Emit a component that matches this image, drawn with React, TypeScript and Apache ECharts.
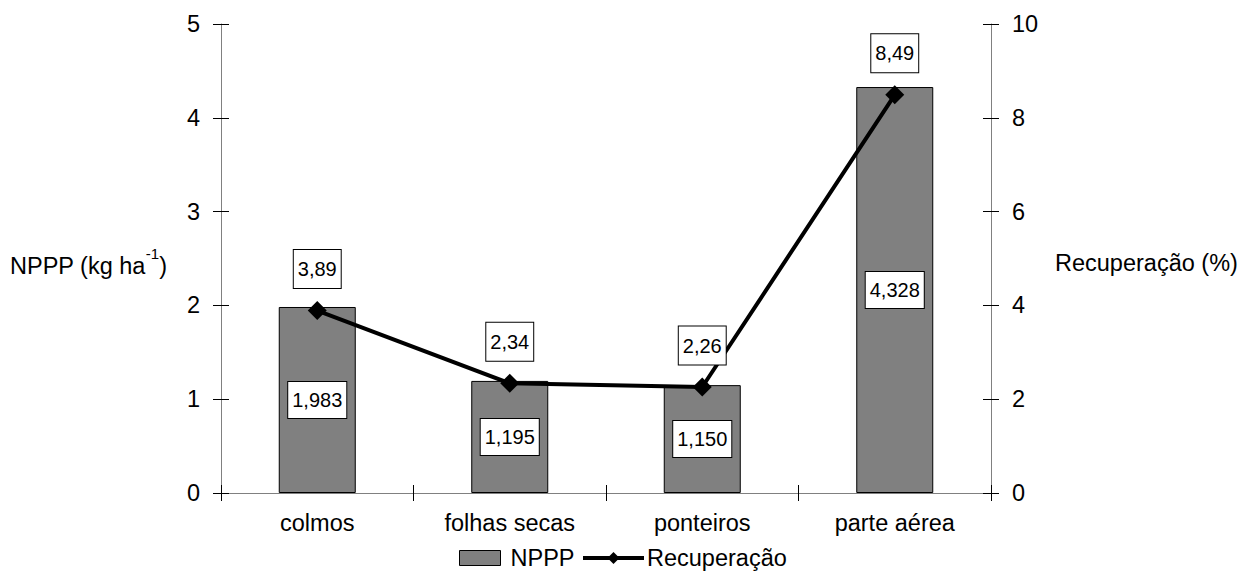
import React, { useEffect, useRef } from "react";
import * as echarts from "echarts";

const categories = ["colmos", "folhas secas", "ponteiros", "parte aérea"];
const npppValues = [1.983, 1.195, 1.15, 4.328];
const recuperacaoValues = [3.89, 2.34, 2.26, 8.49];
const leftTicks = { min: 0, max: 5, interval: 1 };
const rightTicks = { min: 0, max: 10, interval: 2 };

const FONT = "Liberation Sans, Arial, sans-serif";
const AXIS_FS = 23.5;
const LABEL_FS = 20;

export default function App() {
  const ref = useRef<HTMLDivElement>(null);
  useEffect(() => {
    if (!ref.current) return;
    const chart = echarts.init(ref.current, null, { renderer: "svg" });
    const tickStyle = { color: "#000", width: 1 };
    const axisLineStyle = { color: "#808080", width: 1 };
    const axisText = { fontFamily: FONT, fontSize: AXIS_FS, color: "#000" };
    const labelText = { fontFamily: FONT, fontSize: LABEL_FS, color: "#000", lineHeight: 20 };
    chart.setOption({
      animation: false,
      textStyle: { fontFamily: FONT },
      grid: { left: 221, right: 251, top: 24, bottom: 78, containLabel: false },
      legend: [
        {
          data: [{ name: "NPPP", icon: "rect" }],
          left: 454,
          top: 541,
          itemWidth: 41,
          itemHeight: 15,
          itemStyle: { borderColor: "#000", borderWidth: 1 },
          textStyle: { ...axisText, lineHeight: 24, padding: [0, 0, 0, 5] },
        },
        {
          data: ["Recuperação"],
          left: 576,
          top: 541,
          itemWidth: 61,
          itemHeight: 15,
          lineStyle: { width: 4, color: "#000" },
          textStyle: { ...axisText, lineHeight: 24, padding: [0, 0, 0, -2] },
        },
      ],
      xAxis: [
        {
          type: "category",
          data: categories,
          axisLine: { show: true, lineStyle: axisLineStyle },
          axisTick: { show: true, alignWithLabel: false, length: 8, lineStyle: tickStyle },
          axisLabel: { ...axisText, margin: 18 },
          splitLine: { show: false },
        },
        {
          type: "category",
          data: categories,
          position: "bottom",
          axisLine: { show: false },
          axisTick: { show: true, inside: true, length: 8, lineStyle: tickStyle },
          axisLabel: { show: false },
          splitLine: { show: false },
        },
      ],
      yAxis: [
        {
          type: "value",
          position: "left",
          ...leftTicks,
          axisLine: { show: true, lineStyle: axisLineStyle },
          axisTick: { show: true, length: 8, lineStyle: tickStyle },
          axisLabel: { ...axisText, margin: 21 },
          splitLine: { show: false },
        },
        {
          type: "value",
          position: "right",
          ...rightTicks,
          axisLine: { show: true, lineStyle: axisLineStyle },
          axisTick: { show: true, length: 8, lineStyle: tickStyle },
          axisLabel: { ...axisText, margin: 21 },
          splitLine: { show: false },
        },
        {
          type: "value",
          position: "left",
          ...leftTicks,
          axisLine: { show: false },
          axisTick: { show: true, inside: true, length: 8, lineStyle: tickStyle },
          axisLabel: { show: false },
          splitLine: { show: false },
        },
        {
          type: "value",
          position: "right",
          ...rightTicks,
          axisLine: { show: false },
          axisTick: { show: true, inside: true, length: 8, lineStyle: tickStyle },
          axisLabel: { show: false },
          splitLine: { show: false },
        },
      ],
      graphic: [
        {
          type: "text",
          left: 10,
          top: 246,
          style: {
            text: "{a|NPPP (kg ha}{s|-1}{a|)}",
            rich: {
              a: { fontFamily: FONT, fontSize: AXIS_FS, fill: "#000", lineHeight: 32, verticalAlign: "bottom" },
              s: { fontFamily: FONT, fontSize: 15, fill: "#000", lineHeight: 16, verticalAlign: "top" },
            },
          },
        },
        {
          type: "text",
          left: 1055,
          top: 251,
          style: { text: "Recuperação (%)", fontFamily: FONT, fontSize: AXIS_FS, fill: "#000" },
        },
      ],
      series: [
        {
          name: "NPPP",
          type: "bar",
          xAxisIndex: 0,
          yAxisIndex: 0,
          data: npppValues,
          barWidth: "40%",
          itemStyle: { color: "#808080", borderColor: "#000", borderWidth: 1 },
          label: {
            show: true,
            position: "inside",
            formatter: (p: any) => p.value.toFixed(3).replace(".", ","),
            ...labelText,
            backgroundColor: "#fff",
            borderColor: "#000",
            borderWidth: 1,
            padding: [8, 4],
          },
        },
        {
          name: "Recuperação",
          type: "line",
          xAxisIndex: 0,
          yAxisIndex: 1,
          data: recuperacaoValues,
          symbol: "diamond",
          symbolSize: 19,
          lineStyle: { color: "#000", width: 4 },
          itemStyle: { color: "#000" },
          z: 5,
          label: {
            show: true,
            position: "top",
            distance: 13,
            formatter: (p: any) => p.value.toFixed(2).replace(".", ","),
            ...labelText,
            backgroundColor: "#fff",
            borderColor: "#000",
            borderWidth: 1,
            padding: [9, 4],
          },
        },
      ],
    });
    return () => chart.dispose();
  }, []);
  return <div ref={ref} style={{ width: 1242, height: 571, position: "absolute", left: 0, top: 0 }} />;
}
